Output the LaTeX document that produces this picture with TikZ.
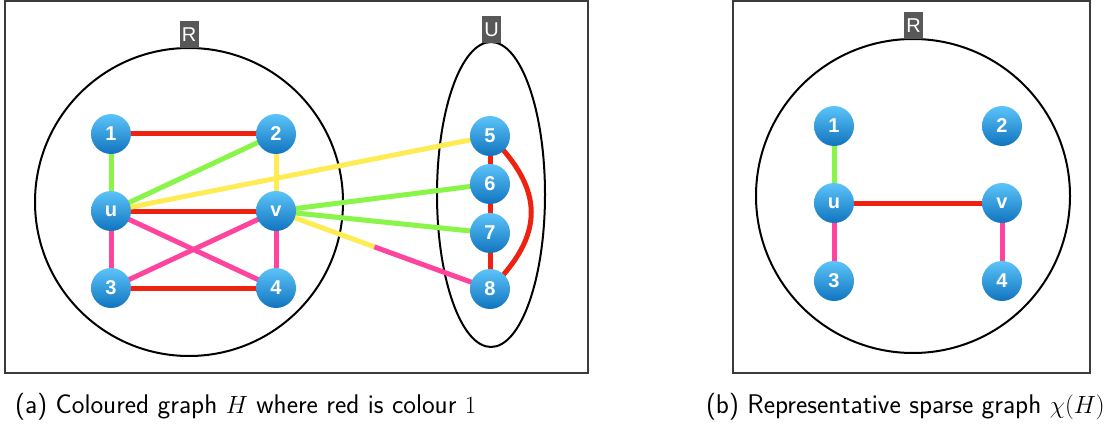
\documentclass[tikz,border=0pt]{standalone}
\usepackage{fontspec}
\newfontfamily\nodefont{Liberation Sans}
\usetikzlibrary{calc}

\definecolor{edgered}{RGB}{238,34,17}
\definecolor{edgegreen}{RGB}{136,245,72}
\definecolor{edgeyellow}{RGB}{255,236,85}
\definecolor{edgepink}{RGB}{255,68,158}
\definecolor{balltop}{RGB}{92,196,250}
\definecolor{ballbottom}{RGB}{16,116,190}
\definecolor{tagfill}{RGB}{88,88,88}
\definecolor{framegray}{RGB}{60,60,60}

\tikzset{
  ball/.style={circle, minimum size=40pt, inner sep=0pt,
    top color=balltop, bottom color=ballbottom, draw=none,
    text=white, font=\nodefont\bfseries\fontsize{20}{20}\selectfont},
  tag/.style={fill=tagfill, text=white, minimum width=19pt, minimum height=27pt,
    inner sep=0pt, font=\nodefont\fontsize{20}{20}\selectfont},
  frame/.style={draw=framegray, line width=1.4pt},
  region/.style={draw=black, line width=2pt},
  edge/.style={line width=5pt},
  caption/.style={inner sep=0pt, font=\sffamily\fontsize{27}{32}\selectfont}
}

\begin{document}
\begin{tikzpicture}[x=1pt,y=-1pt]
\useasboundingbox (0,0) rectangle (1111,425);

% frames of the two panels
\draw[frame] (5,1) rectangle (588,373);
\draw[frame] (733,1) rectangle (1090,373);

% ---------- left panel ----------
\draw[region] (189,202) circle[radius=154];
\draw[region] (491,194.5) ellipse[x radius=54, y radius=152.5];
\node[tag] (tagRa) at (189,35) {R};
\node[tag] (tagU) at (491.5,29.5) {U};

\path (111,134) coordinate (p1)
      (276,134) coordinate (p2)
      (111,211) coordinate (pu)
      (276,211) coordinate (pv)
      (111,288) coordinate (p3)
      (276,288) coordinate (p4)
      (490,136) coordinate (p5)
      (490,184) coordinate (p6)
      (490,233) coordinate (p7)
      (490,289) coordinate (p8);

\coordinate (split) at ($(pv)!0.46!(p8)$);

\draw[edge, edgered] (p1) -- (p2);
\draw[edge, edgered] (pu) -- (pv);
\draw[edge, edgered] (p3) -- (p4);
\draw[edge, edgegreen] (p1) -- (pu);
\draw[edge, edgegreen] (pu) -- (p2);
\draw[edge, edgeyellow] (pu) -- (p5);
\draw[edge, edgeyellow] (p2) -- (pv);
\draw[edge, edgepink] (pu) -- (p3);
\draw[edge, edgepink] (pu) -- (p4);
\draw[edge, edgepink] (pv) -- (p3);
\draw[edge, edgepink] (pv) -- (p4);
\draw[edge, edgegreen] (pv) -- (p6);
\draw[edge, edgegreen] (pv) -- (p7);
\draw[edge, edgeyellow] (pv) -- (split);
\draw[edge, edgepink] (split) -- (p8);
\draw[edge, edgered] (p5) -- (p6);
\draw[edge, edgered] (p6) -- (p7);
\draw[edge, edgered] (p7) -- (p8);
\draw[edge, edgered] (p5) .. controls +(55,54) and +(55,-54) .. (p8);

\node[ball] (n1) at (p1) {1};
\node[ball] (n2) at (p2) {2};
\node[ball] (nu) at (pu) {u};
\node[ball] (nv) at (pv) {v};
\node[ball] (n3) at (p3) {3};
\node[ball] (n4) at (p4) {4};
\node[ball] (n5) at (p5) {5};
\node[ball] (n6) at (p6) {6};
\node[ball] (n7) at (p7) {7};
\node[ball] (n8) at (p8) {8};

% ---------- right panel ----------
\draw[region] (913,196) circle[radius=157];
\node[tag] (tagRb) at (913.5,26) {R};

\path (834,126) coordinate (q1)
      (1002,126) coordinate (q2)
      (834,203) coordinate (qu)
      (1002,203) coordinate (qv)
      (834,281) coordinate (q3)
      (1002,281) coordinate (q4);

\draw[edge, edgegreen] (q1) -- (qu);
\draw[edge, edgered] (qu) -- (qv);
\draw[edge, edgepink] (qu) -- (q3);
\draw[edge, edgepink] (qv) -- (q4);

\node[ball] (m1) at (q1) {1};
\node[ball] (m2) at (q2) {2};
\node[ball] (mu) at (qu) {u};
\node[ball] (mv) at (qv) {v};
\node[ball] (m3) at (q3) {3};
\node[ball] (m4) at (q4) {4};

% ---------- captions ----------
\node[caption, anchor=base west] (capa) at (15,413) {(a) Coloured graph $H$ where red is colour $1$};
\node[caption, anchor=base east] (capb) at (1105,413) {(b) Representative sparse graph $\chi(H)$};
\end{tikzpicture}
\end{document}
